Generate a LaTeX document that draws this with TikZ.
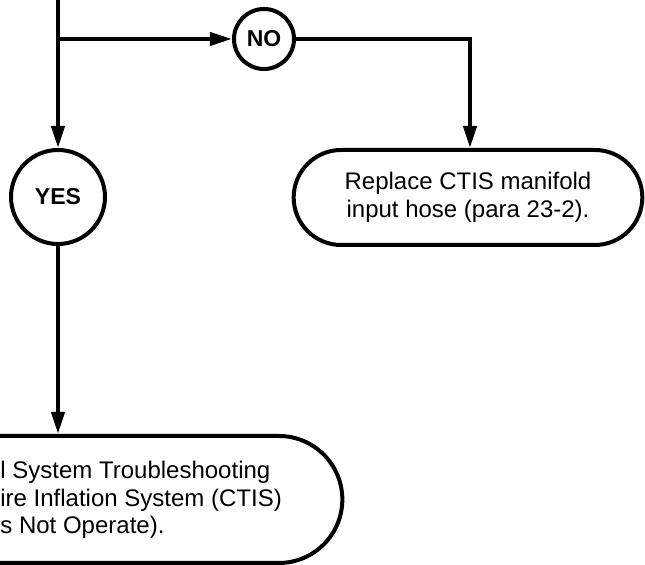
\documentclass[tikz,border=0pt]{standalone}
\usepackage{fontspec}
\setmainfont{Liberation Sans}
\usetikzlibrary{positioning,arrows.meta,shapes.misc}
\tikzset{
    every node/.style={font=\fontsize{12}{13.8}\selectfont},
    stadiumbox/.style={draw, line width=2pt, rounded rectangle, align=center},
    answercycle/.style={draw, line width=2pt, circle, inner sep=0pt, font=\fontsize{11.5}{14}\selectfont\bfseries},
    arrow/.style={-{Triangle[length=11pt,width=6.5pt]}, line width=2pt},
}
\begin{document}
\begin{tikzpicture}[x=0.5pt, y=-0.5pt]
% page frame, the lower box runs off the left edge
\useasboundingbox (0,0) rectangle (645,565);
\clip (0,0) rectangle (645,565);
\coordinate (top) at (58,0);
\coordinate (split) at (58,39);
\coordinate (bend) at (470,39);
\node[answercycle, minimum size=30pt] (no) at (264,39) {NO};
\node[answercycle, minimum size=47pt] (yes) at (58,197) {YES};
\node[stadiumbox, minimum width=181pt, minimum height=47.5pt] (replace) at (468,197.5)
  {Replace CTIS manifold\\input hose (para 23-2).};
\node[stadiumbox, minimum width=291pt, minimum height=63.5pt] (trouble) at (58,499.5) {};
\node[anchor=west, align=left, inner sep=0pt] (troubletext) at (0,500)
  {l System Troubleshooting\\ire Inflation System (CTIS)\\s Not Operate).};
\draw[line width=2pt] (top) -- (split);
\draw[arrow] (split) -- (no);
\draw[arrow] (split) -- (yes);
\draw[arrow] (no) -- (bend) -- (bend |- replace.north);
\draw[arrow] (yes) -- (trouble);
\end{tikzpicture}
\end{document}
